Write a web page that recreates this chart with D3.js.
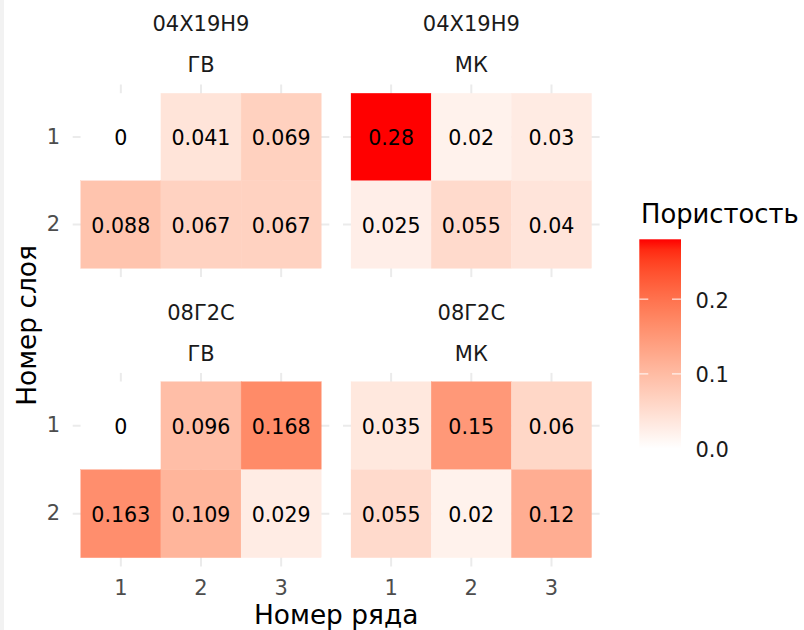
<!DOCTYPE html>
<html>
<head>
<meta charset="utf-8">
<script src="https://cdn.jsdelivr.net/npm/d3@7"></script>
<style>
  html, body { margin: 0; padding: 0; background: #ffffff; }
  svg { display: block; font-family: "DejaVu Sans", sans-serif; }
</style>
</head>
<body>
<svg id="chart" width="804" height="630"></svg>
<script>
// ---- data ----
const steels = ["04Х19Н9", "08Г2С"];
const methods = ["ГВ", "МК"];
const rowNums = [1, 2, 3];      // Номер ряда
const layerNums = [1, 2];       // Номер слоя
const v_04_GV_layer1 = [0, 0.041, 0.069];
const v_04_GV_layer2 = [0.088, 0.067, 0.067];
const v_04_MK_layer1 = [0.28, 0.02, 0.03];
const v_04_MK_layer2 = [0.025, 0.055, 0.04];
const v_08_GV_layer1 = [0, 0.096, 0.168];
const v_08_GV_layer2 = [0.163, 0.109, 0.029];
const v_08_MK_layer1 = [0.035, 0.15, 0.06];
const v_08_MK_layer2 = [0.055, 0.02, 0.12];
const legendTicks = [0.0, 0.1, 0.2];
const xTitle = "Номер ряда";
const yTitle = "Номер слоя";
const legendTitle = "Пористость";

const facetValues = [
  [[v_04_GV_layer1, v_04_GV_layer2], [v_04_MK_layer1, v_04_MK_layer2]],
  [[v_08_GV_layer1, v_08_GV_layer2], [v_08_MK_layer1, v_08_MK_layer2]]
];

const cells = [];
steels.forEach((s, si) => methods.forEach((m, mi) => layerNums.forEach((l, li) => rowNums.forEach((r, ri) => {
  cells.push({ si, mi, steel: s, method: m, layer: l, row: r, value: facetValues[si][mi][li][ri] });
}))));

// ---- layout ----
const svg = d3.select("#chart");
svg.append("rect").attr("x", 0).attr("y", 0).attr("width", 4).attr("height", 630).attr("fill", "#f2f2f2");

const panelX = [[72.7, 329.3], [343.0, 599.6]];
const panelY = [[84.5, 277.1], [372.9, 566.5]];

const maxV = d3.max(cells, d => d.value);
const color = d3.scaleLinear().domain([0, maxV]).range(["#ffffff", "#ff0000"]).interpolate(d3.interpolateLab);

const grid = "#ebebeb";
const tickFont = 21;

steels.forEach((s, si) => methods.forEach((m, mi) => {
  const x = d3.scaleBand().domain(rowNums).range(panelX[mi]).paddingInner(0).paddingOuter(0.1);
  const y = d3.scaleBand().domain(layerNums).range(panelY[si]).paddingInner(0).paddingOuter(0.1);
  const g = svg.append("g");
  const [x0, x1] = panelX[mi];
  const [y0, y1] = panelY[si];

  g.selectAll(".gx").data(rowNums).join("line")
    .attr("x1", d => x(d) + x.bandwidth() / 2).attr("x2", d => x(d) + x.bandwidth() / 2)
    .attr("y1", y0).attr("y2", y1).attr("stroke", grid).attr("stroke-width", 2);
  g.selectAll(".gy").data(layerNums).join("line")
    .attr("y1", d => y(d) + y.bandwidth() / 2).attr("y2", d => y(d) + y.bandwidth() / 2)
    .attr("x1", x0).attr("x2", x1).attr("stroke", grid).attr("stroke-width", 2);

  const data = cells.filter(c => c.si === si && c.mi === mi);
  g.selectAll(".tile").data(data).join("rect")
    .attr("x", d => x(d.row)).attr("y", d => y(d.layer))
    .attr("width", x.bandwidth()).attr("height", y.bandwidth())
    .attr("fill", d => color(d.value))
    .attr("stroke", d => color(d.value)).attr("stroke-width", 0.3);
  g.selectAll(".lbl").data(data).join("text")
    .attr("x", d => x(d.row) + x.bandwidth() / 2)
    .attr("y", d => y(d.layer) + y.bandwidth() / 2 + 8)
    .attr("text-anchor", "middle").attr("font-size", 20.6).attr("fill", "#000")
    .text(d => String(d.value));

  const cx = (x0 + x1) / 2;
  g.append("text").attr("x", cx).attr("y", y0 - 53.3).attr("text-anchor", "middle")
    .attr("font-size", tickFont).attr("fill", "#1a1a1a").text(s);
  g.append("text").attr("x", cx).attr("y", y0 - 12.4).attr("text-anchor", "middle")
    .attr("font-size", tickFont).attr("fill", "#1a1a1a").text(m);

  if (mi === 0) {
    const ax = g.append("g").attr("transform", `translate(${x0},0)`)
      .call(d3.axisLeft(y).tickSize(0).tickPadding(12.5));
    ax.select(".domain").remove();
    ax.selectAll("text").attr("font-size", tickFont).attr("fill", "#4d4d4d").attr("font-family", "DejaVu Sans");
  }
  if (si === 1) {
    const ax = g.append("g").attr("transform", `translate(0,${y1})`)
      .call(d3.axisBottom(x).tickSize(0).tickPadding(13.5));
    ax.select(".domain").remove();
    ax.selectAll("text").attr("font-size", tickFont).attr("fill", "#4d4d4d").attr("font-family", "DejaVu Sans");
  }
}));

svg.append("text").attr("x", (panelX[0][0] + panelX[1][1]) / 2).attr("y", 624)
  .attr("text-anchor", "middle").attr("font-size", 26.4).attr("fill", "#000").text(xTitle);
svg.append("text").attr("transform", `translate(36,${(panelY[0][0] + panelY[1][1]) / 2}) rotate(-90)`)
  .attr("text-anchor", "middle").attr("font-size", 26.4).attr("fill", "#000").text(yTitle);

// legend
const lx0 = 639.3, lx1 = 681;
const ly = d3.scaleLinear().domain([0, maxV]).range([448.7, 239.3]);
const defs = svg.append("defs");
const grad = defs.append("linearGradient").attr("id", "lg").attr("x1", 0).attr("y1", 1).attr("x2", 0).attr("y2", 0);
d3.range(0, 21).forEach(i => {
  grad.append("stop").attr("offset", i / 20).attr("stop-color", color(maxV * i / 20));
});
svg.append("rect").attr("x", lx0).attr("y", ly(maxV)).attr("width", lx1 - lx0)
  .attr("height", ly(0) - ly(maxV)).attr("fill", "url(#lg)");
const lt = svg.append("g");
legendTicks.forEach(t => {
  if (t > 0) {
    lt.append("line").attr("x1", lx0).attr("x2", lx0 + 9).attr("y1", ly(t)).attr("y2", ly(t)).attr("stroke", "#fff").attr("stroke-width", 1);
    lt.append("line").attr("x1", lx1 - 9).attr("x2", lx1).attr("y1", ly(t)).attr("y2", ly(t)).attr("stroke", "#fff").attr("stroke-width", 1);
  }
  lt.append("text").attr("x", 695.5).attr("y", ly(t) + 8.5).attr("font-size", tickFont).attr("fill", "#1a1a1a")
    .text(d3.format(".1f")(t));
});
svg.append("text").attr("x", 641).attr("y", 223).attr("font-size", 25.8).attr("fill", "#000").text(legendTitle);
</script>
</body>
</html>
